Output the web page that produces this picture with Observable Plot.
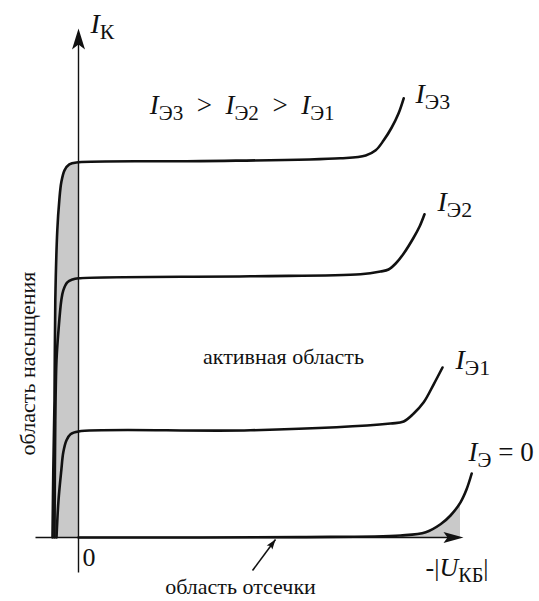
<!DOCTYPE html>
<html>
<head>
<meta charset="utf-8">
<script src="https://cdn.jsdelivr.net/npm/d3@7"></script>
<script src="https://cdn.jsdelivr.net/npm/@observablehq/plot@0.6"></script>
<style>
  html, body { margin: 0; padding: 0; background: #fff; }
  #chart svg { display: block; }
</style>
</head>
<body>
<div id="chart"></div>
<script>
// Output characteristics of a transistor in common-base connection:
// collector current I_K (mA) against -|U_KB| (V) for three emitter currents and I_E = 0.
const curveIE3 = [[-0.65,0],[-0.63,1.68],[-0.6,3.43],[-0.58,5.93],[-0.53,7.68],[-0.48,8.43],[-0.43,8.88],[-0.35,9.18],[-0.23,9.33],[0,9.38],[3.05,9.41],[6.55,9.48],[7.18,9.55],[7.43,9.68],[7.63,9.93],[7.83,10.25],[8.0,10.6],[8.13,10.98]];
const curveIE2 = [[-0.6,0],[-0.58,2.93],[-0.55,4.43],[-0.5,5.18],[-0.43,5.93],[-0.38,6.18],[-0.28,6.38],[-0.15,6.45],[0,6.48],[4.3,6.53],[7.05,6.58],[7.55,6.65],[7.75,6.7],[7.93,6.85],[8.13,7.1],[8.38,7.5],[8.53,7.78],[8.65,8.08]];
const curveIE1 = [[-0.55,0],[-0.5,0.93],[-0.43,1.68],[-0.38,2.13],[-0.3,2.43],[-0.2,2.58],[0,2.65],[4.3,2.68],[7.8,2.85],[8.13,2.9],[8.38,3.1],[8.63,3.38],[8.88,3.83],[9.1,4.25]];
const curveIE0 = [[0,0],[5.55,0.01],[8.05,0.05],[8.68,0.13],[9.05,0.33],[9.3,0.55],[9.55,0.88],[9.7,1.2],[9.83,1.6]];

// Reach of the axis arrows and the pointer to the cut-off region
const axisU = [-1.075, 9.625];
const axisI = [-0.875, 12.725];
const pointerCutoff = [[4.35, -0.825], [4.925, -0.05]];
const cutoffEdgeU = 9.55;

// Labels: I_{..} is written as an italic letter with an upright subscript
const curveLabels = [
  {label: "I_{К}", u: 0.3, i: 12.625, size: 28},
  {label: "I_{Э3}\u2002>\u2002I_{Э2}\u2002>\u2002I_{Э1}", u: 1.78, i: 10.6, size: 27},
  {label: "I_{Э3}", u: 8.425, i: 10.875, size: 28},
  {label: "I_{Э2}", u: 8.975, i: 8.175, size: 28},
  {label: "I_{Э1}", u: 9.425, i: 4.225, size: 28},
  {label: "I_{Э} = 0", u: 9.75, i: 1.925, size: 27},
  {label: "0", u: 0.1, i: -0.7, size: 26},
  {label: "-|U_{КБ}|", u: 8.675, i: -0.95, size: 26}
];
const regionLabels = [
  {label: "активная область", u: 5.125, i: 4.35, rotate: 0},
  {label: "область отсечки", u: 4.05, i: -1.4, rotate: 0},
  {label: "область насыщения", u: -1.1, i: 4.35, rotate: -90}
];

const ink = "#111";
const shade = "#c9c9c9";
const serif = "Liberation Serif";
// Cyrillic stays in the serif face at this size
const regionSize = 22;

// Filled arrowhead with its tip at the symbol origin, pointing up
const arrowHead = (len, half, notch) => ({
  draw(ctx) {
    ctx.moveTo(0, 0);
    ctx.lineTo(half, len);
    ctx.lineTo(0, len - notch);
    ctx.lineTo(-half, len);
    ctx.closePath();
  }
});

const toRows = (pts) => pts.map(([u, i]) => ({u, i}));
const curves = [curveIE3, curveIE2, curveIE1, curveIE0].map(toRows);
const saturation = toRows(curveIE3.filter(([u]) => u <= 0));
const cutoff = toRows(curveIE0.filter(([u]) => u >= 8 && u <= cutoffEdgeU));

const pointerAngle = Math.atan2(pointerCutoff[1][0] - pointerCutoff[0][0], pointerCutoff[1][1] - pointerCutoff[0][1]) * 180 / Math.PI;

const plot = Plot.plot({
  width: 539,
  height: 601,
  margin: 0,
  x: {domain: [-2, 11.5], range: [-2, 538], axis: null},
  y: {domain: [0, 13.5], range: [537, -3], axis: null},
  marks: [
    // shaded saturation and cut-off regions
    Plot.areaX(saturation, {y: "i", x1: "u", x2: 0, fill: shade, curve: "catmull-rom"}),
    Plot.areaY(cutoff, {x: "u", y1: 0, y2: "i", fill: shade, curve: "catmull-rom"}),
    // axes
    Plot.link([{x1: axisU[0], x2: axisU[1] - 0.2, y: 0}], {x1: "x1", x2: "x2", y1: "y", y2: "y", stroke: ink, strokeWidth: 1.4}),
    Plot.link([{y1: axisI[0], y2: axisI[1] - 0.2, x: 0}], {y1: "y1", y2: "y2", x1: "x", x2: "x", stroke: ink, strokeWidth: 1.4}),
    Plot.dot([{u: 0, i: axisI[1]}], {x: "u", y: "i", symbol: arrowHead(21, 6.5, 5), fill: ink, stroke: null, r: 5}),
    Plot.dot([{u: axisU[1], i: 0}], {x: "u", y: "i", symbol: arrowHead(20, 5.5, 4), fill: ink, stroke: null, r: 5, rotate: 90}),
    // characteristic curves
    ...curves.map((c) => Plot.line(c, {x: "u", y: "i", stroke: ink, strokeWidth: 2.6, curve: "catmull-rom"})),
    // pointer to the cut-off region
    Plot.link([{a: pointerCutoff[0], b: pointerCutoff[1]}], {x1: (d) => d.a[0], y1: (d) => d.a[1], x2: (d) => d.b[0], y2: (d) => d.b[1], stroke: ink, strokeWidth: 1.6}),
    Plot.dot([{u: pointerCutoff[1][0], i: pointerCutoff[1][1]}], {x: "u", y: "i", symbol: arrowHead(10, 3.5, 2), fill: ink, stroke: null, r: 4, rotate: pointerAngle}),
    // labels
    Plot.text(curveLabels, {x: "u", y: "i", text: "label", fontSize: "size", fontFamily: serif, textAnchor: "start", lineAnchor: "bottom", fill: ink}),
    Plot.text(regionLabels, {x: "u", y: "i", text: "label", rotate: "rotate", fontSize: regionSize, fontFamily: serif, textAnchor: "middle", lineAnchor: "bottom", fill: ink})
  ]
});

document.getElementById("chart").appendChild(plot);

// Turn "I_{Э3}" markup into an italic letter followed by an upright subscript
const NS = "http://www.w3.org/2000/svg";
plot.querySelectorAll("text").forEach((el) => {
  const str = el.textContent;
  if (!str.includes("_{")) return;
  const fs = parseFloat(getComputedStyle(el).fontSize);
  const shift = fs * 0.24;
  el.textContent = "";
  let pending = 0;
  const add = (s, attrs) => {
    const t = document.createElementNS(NS, "tspan");
    t.textContent = s;
    for (const k in attrs) t.setAttribute(k, attrs[k]);
    if (pending) { t.setAttribute("dy", (+(attrs.dy || 0) + pending).toFixed(2)); pending = 0; }
    el.appendChild(t);
  };
  const re = /([IU])_\{([^}]*)\}/g;
  let last = 0, m;
  while ((m = re.exec(str))) {
    if (m.index > last) add(str.slice(last, m.index), {});
    add(m[1], {"font-style": "italic"});
    add(m[2], {"font-size": (fs * 0.78).toFixed(1), dy: shift.toFixed(2)});
    pending = -shift;
    last = re.lastIndex;
  }
  if (last < str.length) add(str.slice(last), {});
});
</script>
</body>
</html>
